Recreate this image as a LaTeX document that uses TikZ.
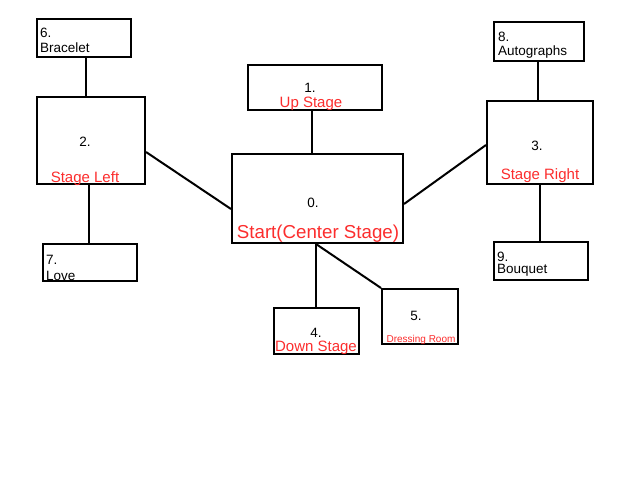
\documentclass[tikz,border=0pt]{standalone}
\usepackage{fontspec}
\setmainfont{Liberation Sans}
\definecolor{lbl}{RGB}{252,45,45}
\begin{document}
\begin{tikzpicture}[x=1pt,y=-1pt,
  box/.style={draw,line width=2pt,inner sep=0pt},
  conn/.style={line width=2pt},
  num/.style={inner sep=0pt,font=\fontsize{13.5}{15}\selectfont},
  red/.style={inner sep=0pt,text=lbl,font=\fontsize{15}{17}\selectfont},
  bigred/.style={inner sep=0pt,text=lbl,font=\fontsize{18.7}{21}\selectfont},
  smallred/.style={inner sep=0pt,text=lbl,font=\fontsize{10}{12}\selectfont}]
\useasboundingbox[fill=white] (0,0) rectangle (640,480);
% boxes
\node[box,minimum width=94pt,minimum height=38pt] (b6) at (84,38) {};
\node[box,minimum width=134pt,minimum height=45pt] (b1) at (315,87.5) {};
\node[box,minimum width=108pt,minimum height=87pt] (b2) at (91,140.5) {};
\node[box,minimum width=90pt,minimum height=39pt] (b8) at (539,41.5) {};
\node[box,minimum width=106pt,minimum height=83pt] (b3) at (540,142.5) {};
\node[box,minimum width=171pt,minimum height=89pt] (b0) at (317.5,198.5) {};
\node[box,minimum width=94pt,minimum height=37pt] (b7) at (90,262.5) {};
\node[box,minimum width=94pt,minimum height=38pt] (b9) at (541,261) {};
\node[box,minimum width=85pt,minimum height=46pt] (b4) at (316.5,331) {};
\node[box,minimum width=76pt,minimum height=55pt] (b5) at (420,316.5) {};
% texts
\node[num,anchor=west] (t6a) at (40,32.5) {6.};
\node[num,anchor=west] (t6b) at (40,47.5) {Bracelet};
\node[num] (t1a) at (310,87.5) {1.};
\node[red] (t1b) at (311,104) {Up Stage};
\node[num] (t2a) at (85,141.5) {2.};
\node[red] (t2b) at (85,179) {Stage Left};
\node[num,anchor=west] (t8a) at (498,36.5) {8.};
\node[num,anchor=west] (t8b) at (498,52.5) {Autographs};
\node[num] (t3a) at (537,145.5) {3.};
\node[red] (t3b) at (540,176) {Stage Right};
\node[num] (t0a) at (313,202.5) {0.};
\node[bigred] (t0b) at (318,234) {Start(Center Stage)};
\node[num,anchor=west] (t7a) at (46,259.5) {7.};
\node[num,anchor=west] (t7b) at (46,275.5) {Love};
\node[num,anchor=west] (t9a) at (497,256.5) {9.};
\node[num,anchor=west] (t9b) at (497,270.5) {Bouquet};
\node[num] (t4a) at (316,332.5) {4.};
\node[red] (t4b) at (316,348) {Down Stage};
\node[num] (t5a) at (416,315.5) {5.};
\node[smallred] (t5b) at (421,339.5) {Dressing Room};
% connectors
\draw[conn] (b6.south -| 86,0) -- (b2.north -| 86,0);
\draw[conn] (b1.south -| 312,0) -- (b0.north -| 312,0);
\draw[conn] (b2.south -| 89,0) -- (b7.north -| 89,0);
\draw[conn] (b8.south -| 538,0) -- (b3.north -| 538,0);
\draw[conn] (b3.south -| 540,0) -- (b9.north -| 540,0);
\draw[conn] (b0.south -| 316,0) -- (b4.north -| 316,0);
\draw[conn] (b2.east |- 0,152) -- (b0.west |- 0,209);
\draw[conn] (b3.west |- 0,145) -- (b0.east |- 0,204);
\draw[conn] (b0.south -| 316,0) -- (b5.north west);
\end{tikzpicture}
\end{document}
